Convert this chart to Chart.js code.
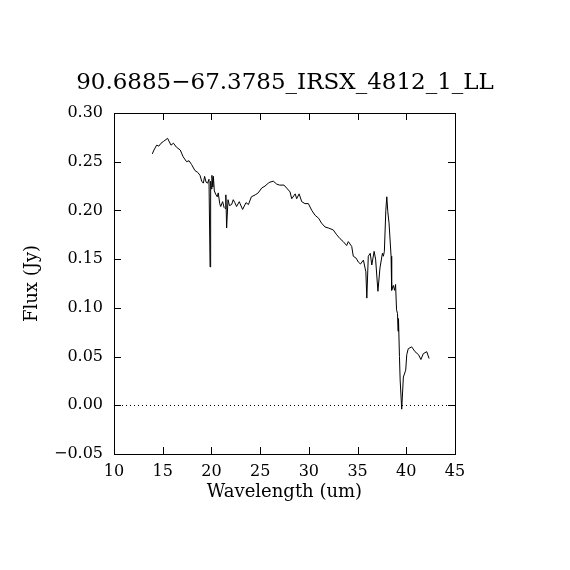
<!DOCTYPE html>
<html>
<head>
<meta charset="utf-8">
<style>
  html, body { margin: 0; padding: 0; background: #fff; }
  canvas { display: block; }
</style>
<script src="https://cdn.jsdelivr.net/npm/chart.js@4/dist/chart.umd.min.js"></script>
</head>
<body>
<canvas id="spectrum" width="570" height="570"></canvas>
<script>
// Spectrum values
const wavelength = [
  13.93, 14.1, 14.38, 14.6, 14.83, 15.1, 15.5, 15.85, 16.1, 16.4,
  16.8, 17.1, 17.45, 17.7, 17.97, 18.3, 18.6, 18.83, 19.0, 19.17,
  19.3, 19.45, 19.6, 19.75, 19.86, 19.92, 20.0, 20.05, 20.15, 20.2,
  20.3, 20.47, 20.6, 20.7, 20.85, 20.95, 21.15, 21.3, 21.4, 21.48,
  21.56, 21.7, 21.85, 22.07, 22.24, 22.4, 22.58, 22.86, 22.94, 23.2,
  23.55, 23.8, 24.1, 24.5, 24.8, 25.16, 25.5, 25.84, 26.0, 26.35,
  26.7, 27.0, 27.45, 27.72, 28.07, 28.24, 28.6, 28.75, 29.0, 29.27,
  29.6, 29.95, 30.3, 30.64, 31.0, 31.3, 31.66, 32.0, 32.5, 32.86,
  33.2, 33.53, 33.88, 34.05, 34.4, 34.56, 34.85, 35.08, 35.3, 35.6,
  35.85, 35.95, 36.1, 36.3, 36.46, 36.7, 36.85, 37.09, 37.3, 37.55,
  37.65, 37.75, 37.9, 38.0, 38.1, 38.23, 38.44, 38.5, 38.67, 38.8,
  38.9, 39.0, 39.1, 39.15, 39.2, 39.3, 39.37, 39.53, 39.7, 39.94,
  40.05, 40.2, 40.55, 40.9, 41.25, 41.5, 41.75, 42.1, 42.34
];
const flux = [
  0.258, 0.262, 0.267, 0.266, 0.269, 0.271, 0.274, 0.267, 0.269, 0.265,
  0.262, 0.255, 0.250, 0.251, 0.247, 0.241, 0.239, 0.236, 0.230, 0.228,
  0.235, 0.229, 0.228, 0.232, 0.142, 0.230, 0.222, 0.236, 0.224, 0.235,
  0.220, 0.216, 0.214, 0.218, 0.207, 0.204, 0.209, 0.203, 0.202, 0.216,
  0.182, 0.211, 0.205, 0.206, 0.211, 0.208, 0.204, 0.209, 0.207, 0.201,
  0.208, 0.206, 0.214, 0.216, 0.218, 0.223, 0.225, 0.228, 0.229, 0.230,
  0.227, 0.226, 0.226, 0.223, 0.219, 0.212, 0.217, 0.212, 0.217, 0.209,
  0.207, 0.207, 0.200, 0.195, 0.192, 0.187, 0.183, 0.182, 0.180, 0.175,
  0.171, 0.168, 0.164, 0.168, 0.163, 0.153, 0.151, 0.147, 0.145, 0.149,
  0.137, 0.110, 0.153, 0.156, 0.144, 0.158, 0.150, 0.117, 0.141, 0.156,
  0.153, 0.158, 0.200, 0.214, 0.199, 0.187, 0.153, 0.118, 0.123, 0.118,
  0.124, 0.098, 0.094, 0.076, 0.089, 0.050, 0.026, -0.004, 0.029, 0.036,
  0.052, 0.058, 0.060, 0.055, 0.052, 0.047, 0.053, 0.055, 0.048
];

const TITLE = '90.6885\u221267.3785_IRSX_4812_1_LL';
const X_LABEL = 'Wavelength (um)';
const Y_LABEL = 'Flux (Jy)';
const FONT = '"DejaVu Serif", "Liberation Serif", serif';

// Frame with inward ticks on all four sides, plus the dotted zero line
const frameTicks = {
    id: 'frameTicks',
    afterDatasetsDraw(chart) {
        const { ctx, chartArea: a, scales } = chart;
        const len = 7;
        ctx.save();
        ctx.strokeStyle = '#000';
        ctx.lineWidth = 1;

        // zero line
        const y0 = Math.round(scales.y.getPixelForValue(0)) + 0.5;
        ctx.setLineDash([1, 3]);
        ctx.beginPath();
        ctx.moveTo(a.left, y0);
        ctx.lineTo(a.right, y0);
        ctx.stroke();
        ctx.setLineDash([]);

        ctx.beginPath();
        scales.x.ticks.forEach(t => {
            const px = Math.round(scales.x.getPixelForValue(t.value)) + 0.5;
            ctx.moveTo(px, a.bottom);
            ctx.lineTo(px, a.bottom - len);
            ctx.moveTo(px, a.top);
            ctx.lineTo(px, a.top + len);
        });
        scales.y.ticks.forEach(t => {
            const py = Math.round(scales.y.getPixelForValue(t.value)) + 0.5;
            ctx.moveTo(a.left, py);
            ctx.lineTo(a.left + len, py);
            ctx.moveTo(a.right, py);
            ctx.lineTo(a.right - len, py);
        });
        ctx.stroke();

        ctx.strokeRect(Math.round(a.left) + 0.5, Math.round(a.top) + 0.5,
            Math.round(a.right - a.left), Math.round(a.bottom - a.top));
        ctx.restore();
    }
};

const ctx = document.getElementById('spectrum').getContext('2d');
new Chart(ctx, {
    type: 'line',
    data: {
        datasets: [{
            data: wavelength.map((w, i) => ({ x: w, y: flux[i] })),
            borderColor: '#000',
            borderWidth: 1,
            pointRadius: 0,
            tension: 0,
            fill: false
        }]
    },
    options: {
        responsive: false,
        devicePixelRatio: 1,
        animation: false,
        layout: { padding: 0 },
        plugins: {
            legend: { display: false },
            tooltip: { enabled: false },
            title: {
                display: true,
                text: TITLE,
                color: '#000',
                font: { family: FONT, size: 23, weight: 'normal', lineHeight: 1.2 },
                padding: { top: 69, bottom: 16.4 }
            }
        },
        scales: {
            x: {
                type: 'linear',
                min: 10,
                max: 45,
                grid: { display: false, drawTicks: false },
                border: { display: false },
                afterFit(scale) { scale.height = 116; },
                ticks: {
                    stepSize: 5,
                    autoSkip: false,
                    maxRotation: 0,
                    padding: 8,
                    color: '#000',
                    font: { family: FONT, size: 16 }
                },
                title: {
                    display: true,
                    text: X_LABEL,
                    color: '#000',
                    font: { family: FONT, size: 18 },
                    padding: { top: 0, bottom: 67 }
                }
            },
            y: {
                min: -0.05,
                max: 0.30,
                grid: { display: false, drawTicks: false },
                border: { display: false },
                afterFit(scale) { scale.width = 114; },
                ticks: {
                    stepSize: 0.05,
                    autoSkip: false,
                    padding: 11,
                    color: '#000',
                    font: { family: FONT, size: 16 },
                    callback: v => (v < -1e-9 ? '\u2212' : '') + Math.abs(v).toFixed(2)
                },
                title: {
                    display: true,
                    text: Y_LABEL,
                    color: '#000',
                    font: { family: FONT, size: 18 },
                    padding: { top: 22, bottom: 0 }
                }
            },
            // empty right margin, keeps the plot box where the reference has it
            margin: {
                position: 'right',
                display: true,
                grid: { display: false, drawTicks: false },
                border: { display: false },
                ticks: { display: false },
                afterFit(scale) { scale.width = 115; }
            }
        }
    },
    plugins: [frameTicks]
});
</script>
</body>
</html>
